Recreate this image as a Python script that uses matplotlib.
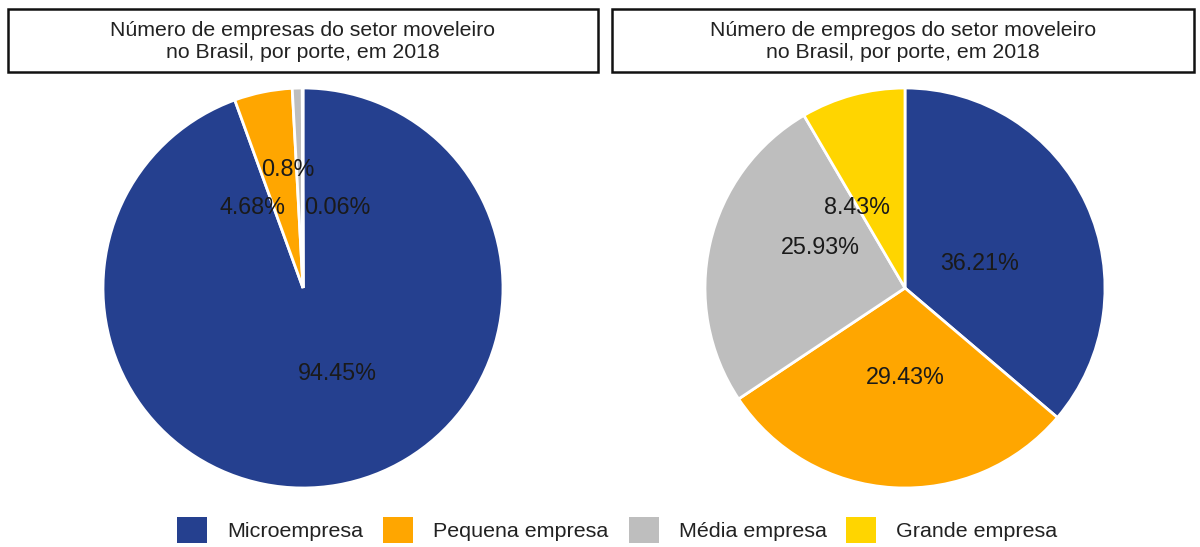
import matplotlib
matplotlib.use("Agg")
import matplotlib.pyplot as plt
from matplotlib.patches import Rectangle, Patch

plt.rcParams['font.family'] = ['Liberation Sans', 'DejaVu Sans']

categories = ["Microempresa", "Pequena empresa", "Média empresa", "Grande empresa"]
empresas = [94.45, 4.68, 0.8, 0.06]
empregos = [36.21, 29.43, 25.93, 8.43]
colors = ["#25408F", "#FFA600", "#BEBEBE", "#FFD500"]
title_left = "Número de empresas do setor moveleiro\nno Brasil, por porte, em 2018"
title_right = "Número de empregos do setor moveleiro\nno Brasil, por porte, em 2018"

# label placements (in pie-radius units) - style only
pos_left = [(0.17, -0.425), (-0.25, 0.405), (-0.075, 0.59), (0.17, 0.405)]
pos_right = [(0.375, 0.125), (0.0, -0.445), (-0.425, 0.2), (-0.24, 0.4)]

W, H = 1200, 547
fig = plt.figure(figsize=(12, 5.47), dpi=100)

def fmt(v):
    return f"{v:g}%"

def draw_pie(cx, cy, r, values, positions):
    ax = fig.add_axes([(cx - r) / W, (H - cy - r) / H, 2 * r / W, 2 * r / H])
    wedges, _ = ax.pie(values, colors=colors, startangle=90, counterclock=False,
                       radius=1, wedgeprops=dict(edgecolor="white", linewidth=2))
    for w in wedges:
        w.set_clip_on(False)
    for v, (x, y) in zip(values, positions):
        ax.text(x, y, fmt(v), ha="center", va="center", fontsize=16.8, color="#1a1a1a")
    ax.set_xlim(-1.0, 1.0)
    ax.set_ylim(-1.0, 1.0)
    ax.set_aspect("equal")
    ax.axis("off")
    return ax

draw_pie(303, 288, 200, empresas, pos_left)
draw_pie(905, 288, 200, empregos, pos_right)

def title_box(x0, x1, y0, y1, text):
    fig.patches.append(Rectangle((x0 / W, 1 - y1 / H), (x1 - x0) / W, (y1 - y0) / H,
                                 transform=fig.transFigure, fill=False,
                                 edgecolor="#111111", linewidth=1.8))
    fig.text((x0 + x1) / 2 / W, 1 - (y0 + y1 + 2) / 2 / H, text, ha="center", va="center",
             fontsize=15.3, color="#222222", linespacing=1.25)

title_box(8, 598, 9, 72, title_left)
title_box(612, 1194, 9, 72, title_right)

handles = [Patch(facecolor=c, edgecolor="none") for c in colors]
fig.legend(handles, categories, loc="center", bbox_to_anchor=(617.5 / W, 1 - 530 / H),
           ncol=4, frameon=False, fontsize=15.45, handlelength=1.4, handleheight=1.45,
           handletextpad=0.93, columnspacing=0.93, labelcolor="#222222",
           borderpad=0, borderaxespad=0)

fig.savefig("out.png", dpi=100, facecolor="white")
